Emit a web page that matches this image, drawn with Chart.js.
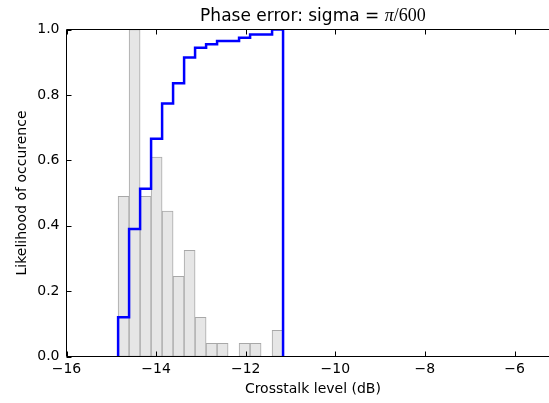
<!DOCTYPE html>
<html>
<head>
<meta charset="utf-8">
<script src="https://cdn.jsdelivr.net/npm/chart.js@4/dist/chart.umd.min.js"></script>
<style>
  html, body { margin: 0; padding: 0; background: #fff; overflow: hidden; }
  #wrap { width: 549px; height: 403px; overflow: hidden; position: relative; }
  canvas { position: absolute; left: 0; top: 0; }
</style>
</head>
<body>
<div id="wrap"><canvas id="chart" width="570" height="403"></canvas></div>
<script>
// histogram bin edges (dB)
const binEdges = [-14.848, -14.603, -14.357, -14.112, -13.866, -13.621, -13.375, -13.130,
                  -12.884, -12.639, -12.393, -12.148, -11.902, -11.657, -11.411, -11.166];
// normalised histogram (max bin = 1)
const histValues = [0.49, 1.0, 0.49, 0.61, 0.445, 0.245, 0.325, 0.12, 0.04, 0.04, 0, 0.04, 0.04, 0, 0.08];
// cumulative distribution per bin
const cdfValues = [0.12, 0.39, 0.513, 0.666, 0.774, 0.836, 0.914, 0.944, 0.955, 0.965, 0.965, 0.975, 0.985, 0.985, 1.0];

const xTicks = [-16, -14, -12, -10, -8, -6];
const yTicks = [0, 0.2, 0.4, 0.6, 0.8, 1.0];

const minus = s => String(s).replace('-', '\u2212');

// bars sit at bin centres
const barData = histValues.map((v, i) => ({
  x: (binEdges[i] + binEdges[i + 1]) / 2,
  y: v > 0 ? v : null
}));

// step outline of the cumulative curve
const stepData = [{ x: binEdges[0], y: 0 }];
cdfValues.forEach((v, i) => stepData.push({ x: binEdges[i], y: v }));
stepData.push({ x: binEdges[binEdges.length - 1], y: cdfValues[cdfValues.length - 1] });
stepData.push({ x: binEdges[binEdges.length - 1], y: 0 });

Chart.defaults.font.family = "'DejaVu Sans', sans-serif";
Chart.defaults.font.size = 14;
Chart.defaults.color = '#000';

// frame, inward ticks and the title
const framePlugin = {
  id: 'frame',
  afterDraw(chart) {
    const { ctx, chartArea: a, scales } = chart;
    ctx.save();
    ctx.strokeStyle = '#000';
    ctx.lineWidth = 1;
    ctx.beginPath();
    ctx.moveTo(a.left, a.bottom); ctx.lineTo(a.right, a.bottom);
    ctx.moveTo(a.left, a.top); ctx.lineTo(a.right, a.top);
    ctx.moveTo(a.left, a.top); ctx.lineTo(a.left, a.bottom);
    ctx.moveTo(a.right, a.top); ctx.lineTo(a.right, a.bottom);
    xTicks.forEach(t => {
      const px = Math.round(scales.x.getPixelForValue(t)) + 0.5;
      ctx.moveTo(px, a.bottom); ctx.lineTo(px, a.bottom - 5);
      ctx.moveTo(px, a.top); ctx.lineTo(px, a.top + 5);
    });
    yTicks.forEach(t => {
      const py = Math.round(scales.y.getPixelForValue(t)) + 0.5;
      ctx.moveTo(a.left, py); ctx.lineTo(a.left + 5, py);
      ctx.moveTo(a.right, py); ctx.lineTo(a.right - 5, py);
    });
    ctx.stroke();

    // title with a math part
    const parts = [
      { text: 'Phase error: sigma = ', font: "17px 'DejaVu Sans'" },
      { text: '\u03c0', font: "italic 18px 'Liberation Serif'" },
      { text: '/600', font: "18px 'Liberation Serif'" }
    ];
    let total = 0;
    parts.forEach(p => { ctx.font = p.font; p.w = ctx.measureText(p.text).width; total += p.w; });
    let x = (a.left + a.right) / 2 - total / 2;
    ctx.fillStyle = '#000';
    ctx.textBaseline = 'alphabetic';
    ctx.textAlign = 'left';
    parts.forEach(p => { ctx.font = p.font; ctx.fillText(p.text, x, 20.5); x += p.w; });
    ctx.restore();
  }
};

new Chart(document.getElementById('chart'), {
  type: 'bar',
  data: {
    datasets: [
      {
        type: 'line',
        data: stepData,
        borderColor: '#0000ff',
        borderWidth: 2.5,
        pointRadius: 0,
        stepped: 'before',
        fill: false,
        tension: 0,
        order: 0
      },
      {
        type: 'bar',
        data: barData,
        backgroundColor: '#e6e6e6',
        borderColor: '#a8a8a8',
        borderWidth: 1,
        borderSkipped: false,
        barPercentage: 1,
        categoryPercentage: 1,
        order: 1
      }
    ]
  },
  options: {
    responsive: false,
    animation: false,
    devicePixelRatio: 1,
    layout: { padding: { top: 29.5, right: 10.7, left: 0, bottom: 0 } },
    plugins: {
      legend: { display: false },
      tooltip: { enabled: false }
    },
    scales: {
      x: {
        type: 'linear',
        min: -16,
        max: -5,
        offset: false,
        grid: { display: false, drawTicks: false },
        border: { display: false },
        ticks: {
          stepSize: 2,
          includeBounds: false,
          padding: 4,
          maxRotation: 0,
          callback: v => minus(v)
        },
        title: {
          display: true,
          text: 'Crosstalk level (dB)',
          padding: { top: 0, bottom: 5 }
        },
        afterFit: s => { s.height = 46.5; }
      },
      y: {
        min: 0,
        max: 1,
        grid: { display: false, drawTicks: false },
        border: { display: false },
        ticks: {
          stepSize: 0.2,
          padding: 7,
          callback: v => v.toFixed(1)
        },
        title: {
          display: true,
          text: 'Likelihood of occurence',
          padding: { top: 14, bottom: 0 }
        },
        afterFit: s => { s.width = 66.5; }
      }
    }
  },
  plugins: [framePlugin]
});
</script>
</body>
</html>
